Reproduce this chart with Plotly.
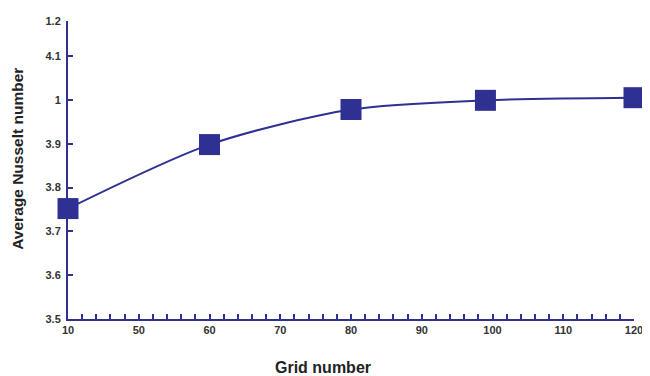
import plotly.graph_objects as go

# Data
grid_number = [40, 60, 80, 99, 120]
avg_nusselt = [3.752, 3.898, 3.978, 3.999, 4.005]

x_tick_vals = [40, 50, 60, 70, 80, 90, 100, 110, 120]
x_tick_text = ["10", "50", "60", "70", "80", "90", "100", "110", "120"]
y_tick_vals = [3.5, 3.6, 3.7, 3.8, 3.9, 4.0, 4.1, 4.18]
y_tick_text = ["3.5", "3.6", "3.7", "3.8", "3.9", "1", "4.1", "1.2"]

blue = "#2e3192"
font_family = "Liberation Sans, Arial, sans-serif"

# page has an 8px body margin; figure is sized to fill the rest of the window
OFF = 8
W, H = 650 - OFF, 376 - OFF
L, R, T, B = 68 - OFF, 10, 15 - OFF, 57

fig = go.Figure()
fig.add_trace(go.Scatter(
    x=grid_number, y=avg_nusselt,
    mode="lines+markers",
    line=dict(color=blue, width=2, shape="spline", smoothing=0.8),
    marker=dict(symbol="square", size=21, color=blue),
    showlegend=False,
    cliponaxis=False,
))

plot_w = W - L - R
plot_h = H - T - B

def px_x(page_x):
    return (page_x - OFF - L) / plot_w

def px_y(page_y):
    return (H - B - (page_y - OFF)) / plot_h

fig.update_layout(
    width=W, height=H,
    margin=dict(l=L, r=R, t=T, b=B),
    paper_bgcolor="white", plot_bgcolor="white",
    font=dict(family=font_family, color="#333333"),
    xaxis=dict(
        range=[40, 120], tickvals=x_tick_vals, ticktext=x_tick_text,
        showgrid=False, zeroline=False,
        showline=True, linecolor=blue, linewidth=2,
        ticks="inside", ticklen=5, tickcolor=blue, tickwidth=1.5,
        minor=dict(dtick=2, tick0=40, ticks="inside", ticklen=5, tickcolor=blue, tickwidth=1.5, showgrid=False),
        tickfont=dict(size=11, family=font_family, color="#333333", weight="bold"),
    ),
    yaxis=dict(
        range=[3.5, 4.18], tickvals=y_tick_vals, ticktext=y_tick_text,
        showgrid=False, zeroline=False,
        showline=True, linecolor=blue, linewidth=2,
        ticks="inside", ticklen=5, tickcolor=blue, tickwidth=1.5,
        tickfont=dict(size=11, family=font_family, color="#333333", weight="bold"),
        ticklabelstandoff=3,
    ),
    annotations=[
        dict(text="<b>Grid number</b>", x=px_x(326), y=px_y(368), xref="paper", yref="paper",
             showarrow=False, font=dict(size=16, color="#222222"),
             xanchor="center", yanchor="middle"),
        dict(text="<b>Average Nusselt number</b>", x=px_x(17), y=px_y(156), xref="paper", yref="paper",
             showarrow=False, textangle=-90, font=dict(size=15.5, color="#222222"),
             xanchor="center", yanchor="middle"),
    ],
)

fig.write_html("out.html")
